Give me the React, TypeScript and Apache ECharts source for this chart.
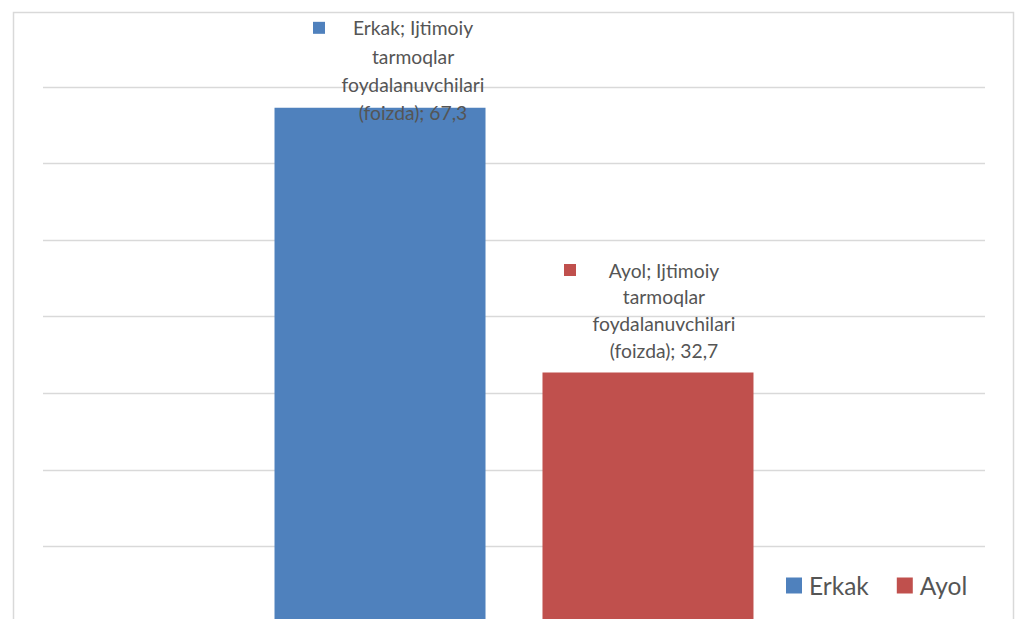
import React, { useEffect, useRef } from "react";
import * as echarts from "echarts";

const category = "Ijtimoiy tarmoqlar foydalanuvchilari (foizda)";
const categoryLines = ["Ijtimoiy", "tarmoqlar", "foydalanuvchilari", "(foizda)"];
const seriesNames = ["Erkak", "Ayol"];
const seriesValues = [67.3, 32.7];
const seriesColors = ["#4F81BD", "#C0504D"];
const yTicks = { min: 0, max: 70, interval: 10 };

const FONT = "Lato";
const TEXT = "#555555";

function labelFor(i: number) {
  const name = seriesNames[i];
  const v = seriesValues[i].toFixed(1).replace(".", ",");
  return (
    "{m|}{t|" + name + "; " + categoryLines[0] + "}{p|}\n" +
    categoryLines[1] + "\n" +
    categoryLines[2] + "\n" +
    categoryLines[3] + "; " + v
  );
}

export default function App() {
  const ref = useRef<HTMLDivElement>(null);
  useEffect(() => {
    if (!ref.current) return;
    const chart = echarts.init(ref.current, null, { renderer: "svg" });
    const labelCfg = [
      { offset: [33, 0], position: ["50%", -94], lineHeight: 28.3 },
      { offset: [16, 0], position: ["50%", -116], lineHeight: 26.8 },
    ];
    const fs = 19.3;
    chart.setOption({
      animation: false,
      backgroundColor: "#ffffff",
      graphic: [
        {
          type: "rect",
          left: 11,
          top: 10,
          shape: { x: 0, y: 0, width: 1000, height: 660 },
          style: { fill: "none", stroke: "#d9d9d9", lineWidth: 1.5 },
          silent: true,
          z: -10,
        },
      ],
      grid: { left: 43, right: 33, top: 87, bottom: 17, containLabel: false },
      legend: {
        data: seriesNames,
        left: 786,
        top: 573,
        padding: 0,
        icon: "rect",
        itemWidth: 16,
        itemHeight: 16,
        itemGap: 28,
        textStyle: { fontFamily: FONT, fontSize: 24.5, color: TEXT, padding: [0, 0, 0, 2] },
      },
      xAxis: {
        type: "category",
        data: [category],
        axisLine: { show: false },
        axisTick: { show: false },
        axisLabel: { show: false },
      },
      yAxis: {
        type: "value",
        min: yTicks.min,
        max: yTicks.max,
        interval: yTicks.interval,
        axisLine: { show: false },
        axisTick: { show: false },
        axisLabel: { show: false },
        splitLine: { lineStyle: { color: "#d9d9d9", width: 1.3 } },
      },
      series: seriesNames.map((name, i) => ({
        name,
        type: "bar",
        data: [seriesValues[i]],
        barWidth: 211,
        barGap: "27%",
        itemStyle: { color: seriesColors[i] },
        label: {
          show: true,
          position: labelCfg[i].position,
          offset: labelCfg[i].offset,
          align: "center",
          verticalAlign: "top",
          fontFamily: FONT,
          fontSize: fs,
          lineHeight: labelCfg[i].lineHeight,
          color: TEXT,
          formatter: () => labelFor(i),
          rich: {
            m: {
              width: 12,
              height: 12,
              backgroundColor: seriesColors[i],
              lineHeight: labelCfg[i].lineHeight,
            },
            t: {
              width: 176,
              align: "center",
              fontFamily: FONT,
              fontSize: fs,
              color: TEXT,
              lineHeight: labelCfg[i].lineHeight,
            },
            p: { width: 12, lineHeight: labelCfg[i].lineHeight },
          },
        },
      })),
    });
    return () => chart.dispose();
  }, []);
  return (
    <div
      ref={ref}
      style={{ position: "fixed", left: 0, top: 0, width: 1018, height: 640 }}
    />
  );
}
